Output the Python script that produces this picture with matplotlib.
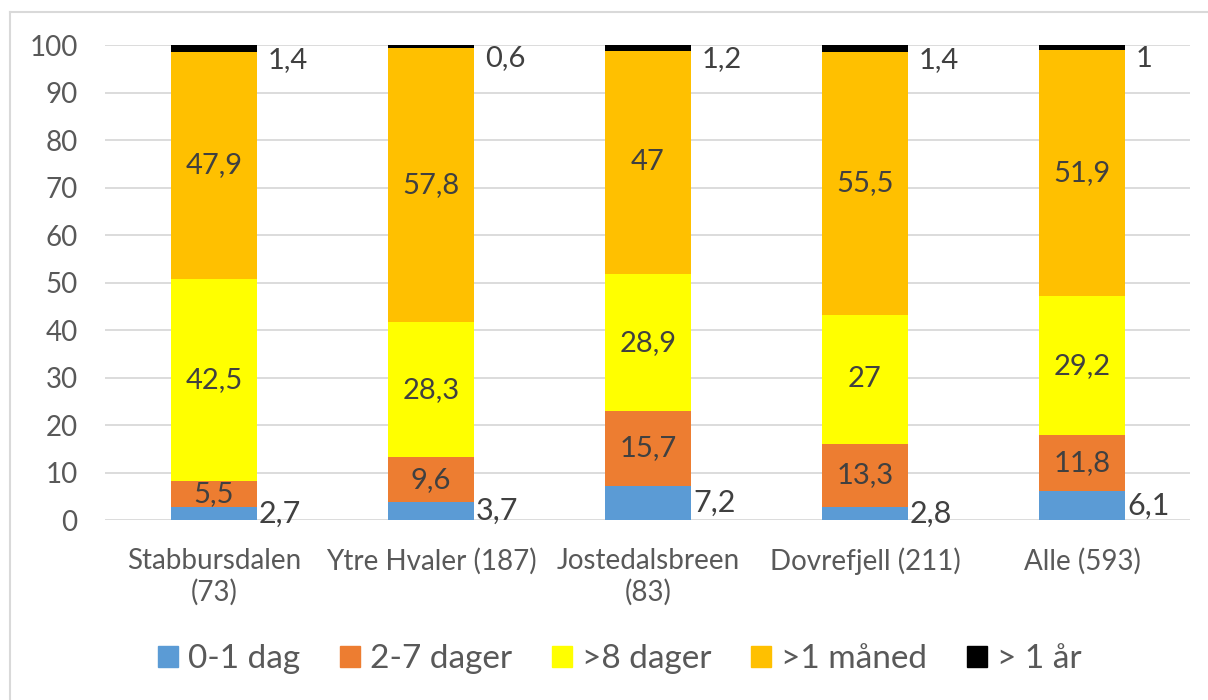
import numpy as np
import matplotlib.pyplot as plt
from matplotlib.lines import Line2D

plt.rcParams['font.family'] = ['Lato', 'DejaVu Sans']

categories = ['Stabbursdalen\n(73)', 'Ytre Hvaler (187)', 'Jostedalsbreen\n(83)',
              'Dovrefjell (211)', 'Alle (593)']
series_names = ['0-1 dag', '2-7 dager', '>8 dager', '>1 måned', '> 1 år']
dag_0_1 = [2.7, 3.7, 7.2, 2.8, 6.1]
dager_2_7 = [5.5, 9.6, 15.7, 13.3, 11.8]
dager_8 = [42.5, 28.3, 28.9, 27, 29.2]
maaned_1 = [47.9, 57.8, 47, 55.5, 51.9]
aar_1 = [1.4, 0.6, 1.2, 1.4, 1]
colors = ['#5B9BD5', '#ED7D31', '#FFFF00', '#FFC000', '#000000']

series = [dag_0_1, dager_2_7, dager_8, maaned_1, aar_1]
text_col = '#404040'


def fmt(v):
    return ('%g' % v).replace('.', ',')


fig = plt.figure(figsize=(12.08, 7.0), dpi=100)
ax = fig.add_axes([0.0873, 0.2571, 0.8982, 0.6786])

x = np.arange(len(categories))
width = 0.396
bottom = np.zeros(len(categories))
for vals, name, c in zip(series, series_names, colors):
    ax.bar(x, vals, width, bottom=bottom, color=c, label=name, zorder=3)
    for i, v in enumerate(vals):
        mid = bottom[i] + v / 2
        if name == '0-1 dag':
            ax.text(x[i] + width / 2 + 0.01, mid, fmt(v), ha='left', va='center',
                    fontsize=22, color=text_col, zorder=4)
        elif name == '> 1 år':
            ax.text(x[i] + width / 2 + 0.05, mid - 2.4, fmt(v), ha='left',
                    va='center', fontsize=21, color=text_col, zorder=4)
        else:
            ax.text(x[i], mid, fmt(v), ha='center', va='center',
                    fontsize=21, color=text_col, zorder=4)
    bottom += np.array(vals)

ax.set_xlim(-0.5, len(categories) - 0.5)
ax.set_ylim(0, 100)
ax.set_yticks(np.arange(0, 101, 10))
ax.yaxis.grid(True, color='#D9D9D9', linewidth=1.3, zorder=0)
ax.set_axisbelow(True)
for s in ax.spines.values():
    s.set_visible(False)
ax.tick_params(axis='both', length=0, labelsize=20, labelcolor='#595959')
ax.tick_params(axis='y', pad=20)
ax.tick_params(axis='x', pad=20)
ax.set_xticks(x)
ax.set_xticklabels(categories, linespacing=1.25)

handles = [plt.Rectangle((0, 0), 1, 1, color=c) for c in colors]
fig.legend(handles, series_names, loc='center', bbox_to_anchor=(0.513, 0.058),
           ncol=5, frameon=False, fontsize=24, labelcolor='#595959',
           handlelength=0.6, handleheight=0.6, handletextpad=0.3,
           columnspacing=1.2)

# light frame around the chart area
fig.add_artist(Line2D([10 / 1208, 1], [1 - 12 / 700, 1 - 12 / 700],
                      transform=fig.transFigure, color='#D9D9D9', lw=1.5))
fig.add_artist(Line2D([10 / 1208, 10 / 1208], [0, 1 - 12 / 700],
                      transform=fig.transFigure, color='#D9D9D9', lw=1.5))

fig.savefig('out.png', dpi=100)
